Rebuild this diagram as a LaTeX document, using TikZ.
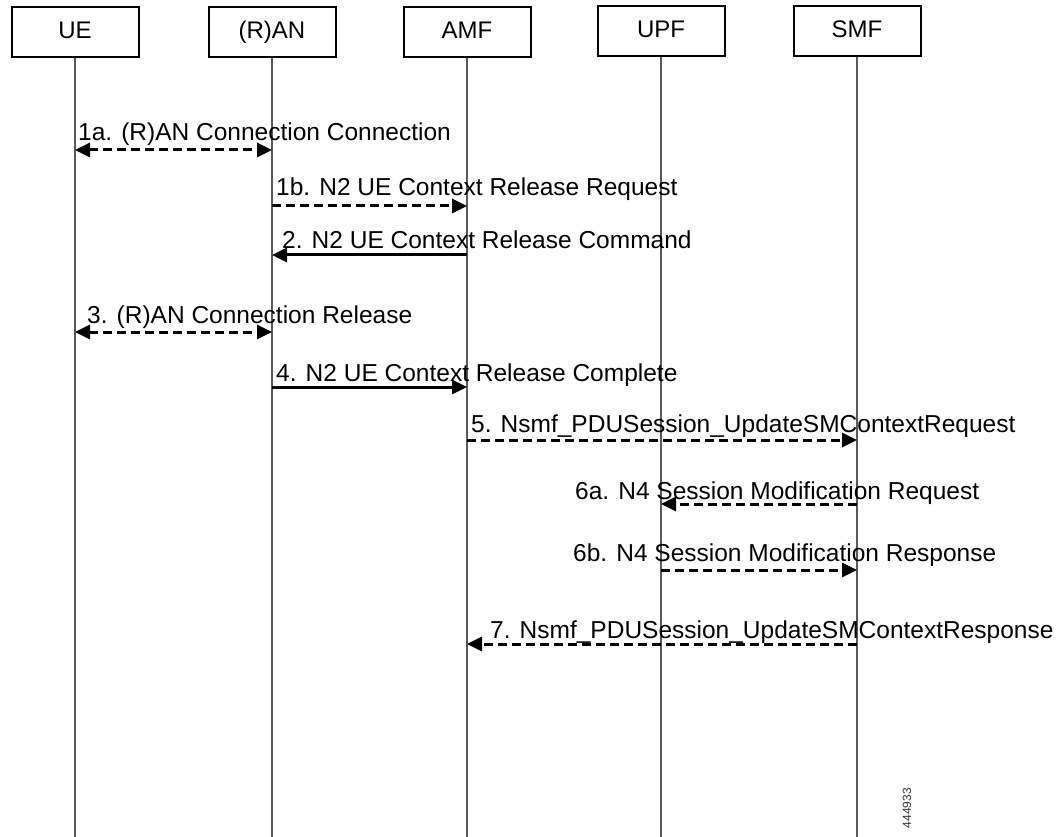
\documentclass[tikz,border=0pt]{standalone}
\usepackage{fontspec}
\setmainfont{Liberation Sans}
\usetikzlibrary{arrows.meta}
\begin{document}
\begin{tikzpicture}[x=1pt,y=-1pt,
  entity/.style={draw=black, line width=2pt, minimum width=127pt, minimum height=50pt, inner sep=0pt, text height=17pt, text depth=4pt, font=\fontsize{24}{28}\selectfont, fill=white},
  lifeline/.style={draw=black!65, line width=1.3pt},
  msg/.style={line width=3pt, -{Triangle[length=15pt,width=14pt]}},
  dmsg/.style={msg, dash pattern=on 9pt off 5pt},
  bothmsg/.style={line width=3pt, {Triangle[length=15pt,width=14pt]}-{Triangle[length=15pt,width=14pt]}, dash pattern=on 9pt off 5pt},
  lbl/.style={anchor=base west, inner sep=0pt, font=\fontsize{24.5}{28}\selectfont}
]
\path[use as bounding box, fill=white] (0,0) rectangle (1063,837);

% entities
\node[entity] (ue)  at (75,32)  {UE};
\node[entity] (ran) at (272,32) {(R)AN};
\node[entity] (amf) at (467,32) {AMF};
\node[entity] (upf) at (661,31) {UPF};
\node[entity] (smf) at (857,31) {SMF};

% lifelines
\coordinate (ueE)  at (75,837);
\coordinate (ranE) at (272,837);
\coordinate (amfE) at (467,837);
\coordinate (upfE) at (661,837);
\coordinate (smfE) at (857,837);
\draw[lifeline] (ue.south) -- (ueE);
\draw[lifeline] (ran.south) -- (ranE);
\draw[lifeline] (amf.south) -- (amfE);
\draw[lifeline] (upf.south) -- (upfE);
\draw[lifeline] (smf.south) -- (smfE);

% messages
\draw[bothmsg] (ue |- 0,150) -- (ran |- 0,150);
\node[lbl] (l1a) at (78,141) {1a. (R)AN Connection Connection};

\draw[dmsg] (ran |- 0,206) -- (amf |- 0,206);
\node[lbl] (l1b) at (276,196) {1b. N2 UE Context Release Request};

\draw[msg] (amf |- 0,255) -- (ran |- 0,255);
\node[lbl] (l2) at (282,249) {2. N2 UE Context Release Command};

\draw[bothmsg] (ue |- 0,332) -- (ran |- 0,332);
\node[lbl] (l3) at (87,323) {3. (R)AN Connection Release};

\draw[msg] (ran |- 0,387) -- (amf |- 0,387);
\node[lbl] (l4) at (276,381) {4. N2 UE Context Release Complete};

\draw[dmsg] (amf |- 0,440) -- (smf |- 0,440);
\node[lbl] (l5) at (471,432) {5. Nsmf\_PDUSession\_UpdateSMContextRequest};

\draw[dmsg] (smf |- 0,504) -- (upf |- 0,504);
\node[lbl] (l6a) at (575,499) {6a. N4 Session Modification Request};

\draw[dmsg] (upf |- 0,570) -- (smf |- 0,570);
\node[lbl] (l6b) at (573,561) {6b. N4 Session Modification Response};

\draw[dmsg] (smf |- 0,644) -- (amf |- 0,644);
\node[lbl] (l7) at (490,638) {7. Nsmf\_PDUSession\_UpdateSMContextResponse};

% figure number
\node[rotate=90, inner sep=0pt, font=\fontsize{12}{14}\selectfont, text=black!80] (fig) at (907,808) {444933};
\end{tikzpicture}
\end{document}
